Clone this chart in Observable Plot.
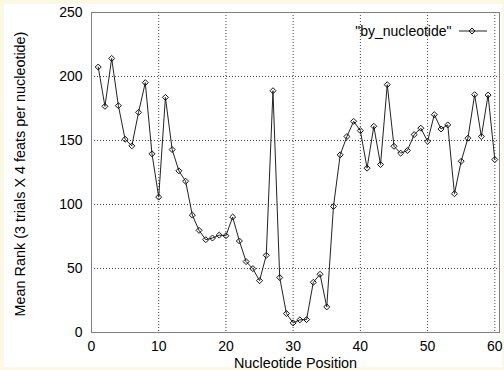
<!DOCTYPE html>
<html><head><meta charset="utf-8">
<script src="https://cdn.jsdelivr.net/npm/d3@7"></script>
<script src="https://cdn.jsdelivr.net/npm/@observablehq/plot@0.6"></script>
<style>
html,body{margin:0;padding:0;background:#fbf9e4;}
#wrap{position:absolute;left:0;top:0;width:504px;height:370px;overflow:hidden;background:#fbf9e4;}
#paper{position:absolute;left:4px;top:4px;width:498px;height:363px;background:#fff;}
#chart{position:absolute;left:0;top:0;}
</style></head><body><div id="wrap"><div id="paper"></div><div id="chart"></div></div>
<script>
const positions = [1,2,3,4,5,6,7,8,9,10,11,12,13,14,15,16,17,18,19,20,21,22,23,24,25,26,27,28,29,30,31,32,33,34,35,36,37,38,39,40,41,42,43,44,45,46,47,48,49,50,51,52,53,54,55,56,57,58,59,60];
const meanRank = [207.4,176.7,214.1,177.2,151,145.8,172,195.2,139.6,105.8,183.7,142.9,126.3,118.2,91.7,79.8,72.5,73.8,76.1,75.6,90.2,71.5,55.4,49.9,40.5,60.3,188.9,42.9,14.8,7.5,9.9,10.1,39.2,45.5,20,98.5,138.8,153.1,165,157.7,128.4,161.1,131.2,193.6,145.5,140.1,142.2,154.6,159.6,149.4,170.2,159,162.2,108.4,133.8,151.8,185.8,153.1,185.5,135.1];
const xTicks = [0,10,20,30,40,50,60];
const yTicks = [0,50,100,150,200,250];
const seriesName = '"by_nucleotide"';
const xLabel = "Nucleotide Position";
const yLabel = "Mean Rank (3 trials X 4 feats per nucleotide)";
const data = positions.map((p, i) => ({pos: p, rank: meanRank[i]}));

const chart = Plot.plot({
  width: 504, height: 370,
  marginLeft: 91, marginRight: 5, marginTop: 12, marginBottom: 38,
  x: {domain: [0, 60.7]},
  y: {domain: [0, 250]},
  style: {background: "transparent", fontFamily: "'Liberation Sans', Arial, sans-serif", fontSize: "14px", color: "#000", overflow: "visible"},
  marks: [
    Plot.ruleX(xTicks, {x: d => d, stroke: "#444", strokeOpacity: 1, strokeDasharray: "1,2"}),
    Plot.ruleY(yTicks, {y: d => d, stroke: "#444", strokeOpacity: 1, strokeDasharray: "1,2"}),
    Plot.line(data, {x: "pos", y: "rank", stroke: "#222", strokeWidth: 1}),
    Plot.dot(data, {x: "pos", y: "rank", symbol: "diamond2", r: 2.7, stroke: "#111", fill: "none", strokeWidth: 1}),
    Plot.frame({stroke: "#808080"}),
    Plot.axisX({ticks: xTicks, tickSize: 0, tickPadding: 9, label: null, fontSize: 14}),
    Plot.axisY({ticks: yTicks, tickSize: 0, tickPadding: 9, label: null, fontSize: 14}),
    Plot.text([yLabel], {frameAnchor: "left", rotate: -90, dx: -71.5, dy: 1.5, textAnchor: "middle", lineAnchor: "middle", fontSize: 14.4}),
    Plot.text([xLabel], {frameAnchor: "bottom", dy: 30.5, textAnchor: "middle", lineAnchor: "middle", fontSize: 14.4}),
    Plot.text([seriesName], {frameAnchor: "top-right", dx: -48, dy: 19, textAnchor: "end", lineAnchor: "middle", fontSize: 14})
  ]
});
document.getElementById("chart").appendChild(chart);

// legend key sample (line + marker)
const svg = d3.select(chart);
const key = svg.append("g").attr("stroke", "#222").attr("fill", "none");
key.append("line").attr("x1", 459).attr("x2", 487).attr("y1", 31).attr("y2", 31);
key.append("path").attr("d", d3.symbol(d3.symbolDiamond2, Math.PI * 2.7 * 2.7)()).attr("transform", "translate(472,31)").attr("stroke", "#111");
</script>
</body></html>
